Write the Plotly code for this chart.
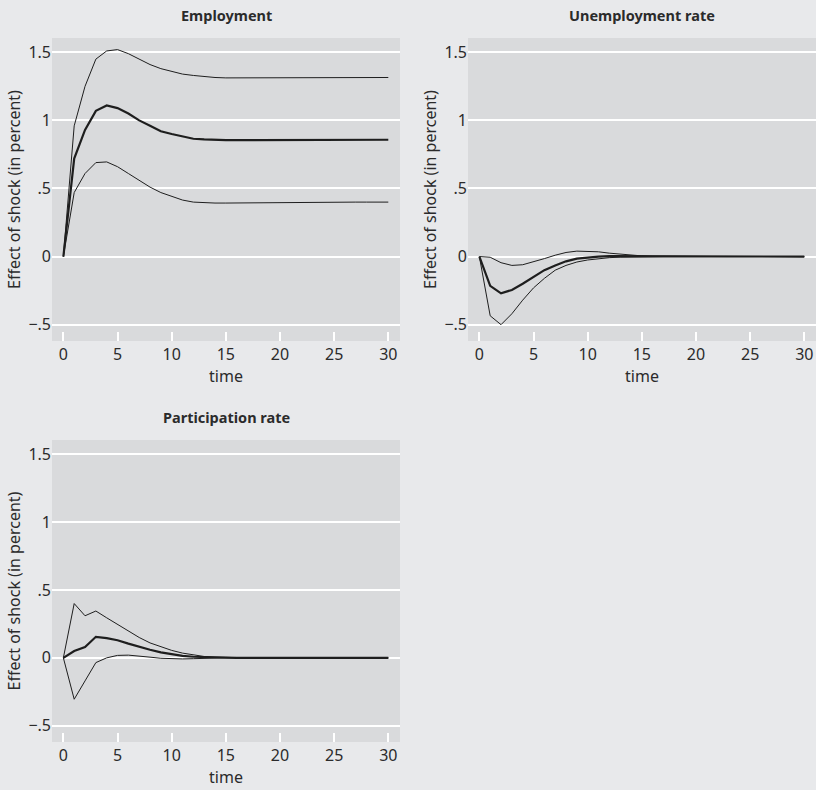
import plotly.graph_objects as go

time = list(range(0, 31))

# Employment
emp_mid = [0, 0.72, 0.93, 1.07, 1.11, 1.09, 1.05, 1.00, 0.96, 0.92, 0.90, 0.88, 0.865, 0.86, 0.855,
           0.855, 0.855, 0.855, 0.855, 0.855, 0.856, 0.856, 0.857, 0.857, 0.857, 0.858, 0.858, 0.858, 0.858, 0.858, 0.858]
emp_up = [0, 0.96, 1.25, 1.45, 1.51, 1.52, 1.49, 1.45, 1.41, 1.38, 1.36, 1.34, 1.33, 1.32, 1.315,
          1.312, 1.312, 1.312, 1.312, 1.313, 1.313, 1.313, 1.314, 1.314, 1.314, 1.315, 1.315, 1.315, 1.315, 1.315, 1.315]
emp_lo = [0, 0.47, 0.61, 0.69, 0.695, 0.66, 0.61, 0.56, 0.51, 0.47, 0.44, 0.415, 0.40, 0.395, 0.393,
          0.393, 0.394, 0.395, 0.396, 0.397, 0.398, 0.398, 0.399, 0.399, 0.40, 0.40, 0.40, 0.40, 0.40, 0.40, 0.40]

# Unemployment rate
une_mid = [0, -0.215, -0.27, -0.245, -0.20, -0.15, -0.10, -0.065, -0.035, -0.015, -0.005, 0.0, 0.003, 0.003, 0.002,
           0.001, 0.0, 0, 0, 0, 0, 0, 0, 0, 0, 0, 0, 0, 0, 0, 0]
une_up = [0, -0.005, -0.045, -0.065, -0.06, -0.04, -0.015, 0.01, 0.03, 0.04, 0.04, 0.035, 0.025, 0.018, 0.01,
          0.005, 0.002, 0.001, 0, 0, 0, 0, 0, 0, 0, 0, 0, 0, 0, 0, 0]
une_lo = [0, -0.435, -0.50, -0.42, -0.32, -0.23, -0.16, -0.10, -0.065, -0.04, -0.025, -0.015, -0.008, -0.004, -0.002,
          -0.001, 0, 0, 0, 0, 0, 0, 0, 0, 0, 0, 0, 0, 0, 0, 0]

# Participation rate
par_mid = [0, 0.05, 0.08, 0.155, 0.145, 0.13, 0.105, 0.08, 0.06, 0.04, 0.025, 0.015, 0.008, 0.004, 0.002,
           0.001, 0, 0, 0, 0, 0, 0, 0, 0, 0, 0, 0, 0, 0, 0, 0]
par_up = [0, 0.40, 0.31, 0.345, 0.295, 0.245, 0.195, 0.15, 0.11, 0.08, 0.055, 0.035, 0.02, 0.01, 0.005,
          0.002, 0.001, 0, 0, 0, 0, 0, 0, 0, 0, 0, 0, 0, 0, 0, 0]
par_lo = [0, -0.305, -0.17, -0.035, 0.0, 0.018, 0.02, 0.015, 0.005, -0.003, -0.008, -0.008, -0.006, -0.003, -0.001,
          0, 0, 0, 0, 0, 0, 0, 0, 0, 0, 0, 0, 0, 0, 0, 0]

panels = [
    ("Employment", emp_lo, emp_mid, emp_up),
    ("Unemployment rate", une_lo, une_mid, une_up),
    ("Participation rate", par_lo, par_mid, par_up),
]

y_ticks = [-0.5, 0, 0.5, 1, 1.5]
y_labels = ["\u2212.5", "0", ".5", "1", "1.5"]
x_ticks = [0, 5, 10, 15, 20, 25, 30]

W, H = 816, 790
# pixel boxes of the plot areas: left, right, top, bottom
boxes = [(52, 400, 38, 341), (468, 816, 38, 341), (52, 400, 440, 742)]

font = "Noto Sans"
txt = "#2b2b2b"
line_col = "#1e1e1e"

fig = go.Figure()
annotations = []
for i, (title, lo, mid, up) in enumerate(panels):
    n = "" if i == 0 else str(i + 1)
    xa, ya = "x" + n, "y" + n
    for ys, w in ((up, 1), (lo, 1), (mid, 2.2)):
        fig.add_trace(go.Scatter(x=time, y=ys, mode="lines", xaxis=xa, yaxis=ya,
                                 line=dict(color=line_col, width=w), showlegend=False,
                                 hoverinfo="skip"))
    l, r, t, b = boxes[i]
    fig.layout["xaxis" + n] = dict(
        domain=[l / W, r / W], anchor=ya, range=[-1.05, 31.08],
        tickvals=x_ticks, ticks="inside", ticklen=9, tickwidth=2, tickcolor="white",
        showgrid=False, zeroline=False, showline=False, ticklabelstandoff=2,
        tickfont=dict(size=16, color=txt, family=font),
        title=dict(text="time", font=dict(size=16, color=txt, family=font), standoff=3),
    )
    fig.layout["yaxis" + n] = dict(
        domain=[1 - b / H, 1 - t / H], anchor=xa, range=[-0.62, 1.605],
        tickvals=y_ticks, ticktext=y_labels, ticks="",
        showgrid=True, gridcolor="white", gridwidth=2, zeroline=False, showline=False,
        tickfont=dict(size=16, color=txt, family=font),
        title=dict(text="Effect of shock (in percent)", font=dict(size=16, color=txt, family=font), standoff=3),
    )
    annotations.append(dict(text="<b>" + title + "</b>", x=(l + r) / 2 / W, y=1 - (t - 23) / H,
                            xref="paper", yref="paper", showarrow=False,
                            xanchor="center", yanchor="middle",
                            font=dict(size=14.5, color=txt, family=font)))

fig.update_layout(
    width=W, height=H, margin=dict(l=0, r=0, t=0, b=0),
    paper_bgcolor="#e8e9eb", plot_bgcolor="#d9dadc",
    annotations=annotations,
)

fig.write_html("out.html", config={"displayModeBar": False},
               post_script="document.body.style.margin='0';document.body.style.overflow='hidden';")
